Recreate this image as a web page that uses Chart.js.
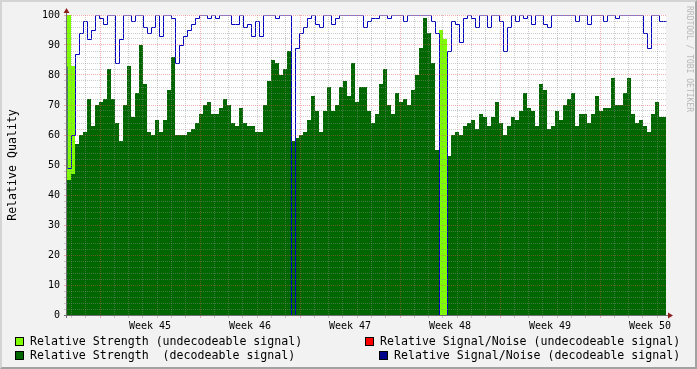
<!DOCTYPE html>
<html>
<head>
<meta charset="utf-8">
<script src="https://cdn.jsdelivr.net/npm/chart.js@4/dist/chart.umd.min.js"></script>
<style>
html,body{margin:0;padding:0;background:#f2f2f2;}
#frame{position:absolute;left:0;top:0;width:697px;height:369px;box-sizing:border-box;background:#f2f2f2;
  border-left:2px solid #d4d4d4;border-top:2px solid #d4d4d4;border-right:2px solid #a2a2a2;border-bottom:2px solid #a2a2a2;}
canvas{position:absolute;left:0;top:0;}
.t{position:absolute;font-family:"DejaVu Sans Mono",monospace;white-space:pre;color:#000;font-size:11.6px;line-height:12px;}
.box{position:absolute;width:7px;height:7px;border:1px solid #000;}
#ytitle{left:12px;top:165px;transform:translate(-50%,-50%) rotate(-90deg);}
#mark{left:689px;top:59px;transform:translate(-50%,-50%) rotate(90deg);font-size:8px;color:#b8b8b8;}
</style>
</head>
<body>
<div id="frame"></div>
<canvas id="c" width="697" height="369"></canvas>
<div class="t" id="ytitle">Relative Quality</div>
<div class="t" id="mark">RRDTOOL / TOBI OETIKER</div>

<div class="box" style="left:15px;top:337px;background:#80ff00"></div>
<div class="t" style="left:30px;top:335px">Relative Strength (undecodeable signal)</div>
<div class="box" style="left:15px;top:351px;background:#006600"></div>
<div class="t" style="left:30px;top:349px">Relative Strength  (decodeable signal)</div>
<div class="box" style="left:365px;top:337px;background:#ff0000"></div>
<div class="t" style="left:380px;top:335px">Relative Signal/Noise (undecodeable signal)</div>
<div class="box" style="left:379px;top:351px;background:#00008b"></div>
<div class="t" style="left:394px;top:349px">Relative Signal/Noise (decodeable signal)</div>

<script>
// time axis in days, 0 = start of week 45
const xStart = -2.31, xEnd = 39.62, sampleStep = 0.28;
const weekLabels = ['Week 45','Week 46','Week 47','Week 48','Week 49','Week 50'];
const weekLabelDays = [3.5, 10.5, 17.5, 24.5, 31.5, 38.5];

// relative strength, decodeable signal (one value per sample)
const strengthDecoded = [
  82,45,47,57,60,61,72,63,70,71,
  72,82,72,64,58,70,83,66,74,90,
  77,61,60,65,61,65,75,86,60,60,
  60,61,62,64,67,70,71,67,67,69,
  72,70,64,63,69,64,63,63,61,61,
  70,78,85,84,80,82,88,58,59,60,
  61,65,73,68,61,68,76,68,70,76,
  78,73,84,71,76,76,68,64,67,77,
  82,70,67,74,71,72,70,75,80,89,
  99,94,84,55,0,0,53,60,61,60,
  63,64,65,62,67,66,63,66,71,64,
  60,63,66,65,68,74,69,68,63,77,
  75,62,63,68,65,70,72,74,63,67,
  67,64,67,73,68,69,69,79,70,70,
  74,79,67,64,65,63,61,67,71,66
];
// relative strength, undecodeable signal (only a few samples)
const undecodedSamples = [1, 2, 94, 95];
const undecodedValues = [100, 83, 95, 92];
// relative signal/noise, decodeable signal
const snrDecoded = [
  83,49,60,87,94,98,92,95,100,99,
  97,100,100,84,92,100,100,98,100,100,
  96,94,96,100,93,100,100,99,84,90,
  93,95,97,99,100,100,99,100,99,100,
  100,100,97,97,100,96,97,93,98,93,
  100,100,100,99,100,100,100,0,89,94,
  96,99,100,97,96,100,100,97,99,100,
  100,100,100,100,100,96,98,99,99,100,
  100,99,100,100,100,98,100,100,100,100,
  100,100,98,94,0,0,88,98,97,91,
  99,100,99,96,100,100,96,100,100,98,
  88,96,100,98,100,99,100,97,100,100,
  97,96,100,100,100,100,100,100,98,100,
  100,97,100,100,100,98,100,100,99,100,
  100,100,100,100,100,94,89,100,100,98
];

const GRID = 'rgba(143,143,143,0.45)';
const MGRID = 'rgba(222,80,80,0.45)';
const NONE = 'rgba(0,0,0,0)';

const toPoints = vals=>{
  const pts = vals.map((v,i)=>({x: xStart + i*sampleStep, y: v}));
  pts.push({x: xStart + vals.length*sampleStep, y: vals[vals.length-1]});
  return pts;
};
const undecoded = strengthDecoded.map(()=>0);
undecodedSamples.forEach((s,k)=>{ undecoded[s] = undecodedValues[k]; });

const near = (a,b)=>Math.abs(a-b) < 1e-6;
const xGridColor = c=>{
  const v = c.tick.value;
  if(!near(v, Math.round(v))) return NONE;
  return near(v/7, Math.round(v/7)) ? MGRID : GRID;
};
const yGridColor = c=> c.tick.value % 10 === 0 ? MGRID : GRID;

// white canvas, crisp 1px line, axis lines and arrows like rrdtool
const rrdFrame = {
  id:'rrdFrame',
  beforeDraw(chart){
    const {ctx, chartArea:a} = chart;
    ctx.save(); ctx.fillStyle = '#fff';
    ctx.fillRect(a.left, a.top, a.right-a.left, a.bottom-a.top);
    ctx.restore();
  },
  beforeDatasetDraw(chart, args){
    if(chart.data.datasets[args.index].crisp){ chart.ctx.save(); chart.ctx.translate(0.5,0.5); }
  },
  afterDatasetDraw(chart, args){
    if(chart.data.datasets[args.index].crisp) chart.ctx.restore();
  },
  afterDraw(chart){
    const {ctx, chartArea:a} = chart;
    ctx.save();
    ctx.strokeStyle = '#707070'; ctx.lineWidth = 1;
    ctx.beginPath();
    ctx.moveTo(a.left-0.5, a.bottom+3); ctx.lineTo(a.left-0.5, a.top-2);
    ctx.moveTo(a.left-3, a.bottom+0.5); ctx.lineTo(a.right+2, a.bottom+0.5);
    ctx.stroke();
    ctx.fillStyle = '#902020';
    ctx.beginPath();
    ctx.moveTo(a.left-3.5, a.top-2); ctx.lineTo(a.left+2.5, a.top-2); ctx.lineTo(a.left-0.5, a.top-7); ctx.closePath();
    ctx.moveTo(a.right+2, a.bottom-2.5); ctx.lineTo(a.right+2, a.bottom+3.5); ctx.lineTo(a.right+7, a.bottom+0.5); ctx.closePath();
    ctx.fill();
    ctx.restore();
  }
};

new Chart(document.getElementById('c'), {
  type:'line',
  data:{
    datasets:[
      { label:'Relative Signal/Noise (decodeable signal)', data:toPoints(snrDecoded), stepped:'after',
        borderColor:'#0000c0', borderWidth:1, fill:false, pointRadius:0, crisp:true },
      { label:'Relative Strength  (decodeable signal)', data:toPoints(strengthDecoded), stepped:'after',
        borderColor:NONE, borderWidth:0, backgroundColor:'#006600', fill:'origin', pointRadius:0 },
      { label:'Relative Strength (undecodeable signal)', data:toPoints(undecoded), stepped:'after',
        borderColor:NONE, borderWidth:0, backgroundColor:'#80ff00', fill:'origin', pointRadius:0 }
    ]
  },
  options:{
    responsive:false, animation:false,
    layout:{ padding:{ left:0, top:15, right:31, bottom:32 } },
    plugins:{ legend:{display:false}, tooltip:{enabled:false} },
    scales:{
      x:{
        type:'linear', min:xStart, max:xEnd,
        afterFit: s=>{ s.height = 22; },
        grid:{ z:1, color:xGridColor, tickColor:xGridColor, tickLength:3, lineWidth:1 },
        border:{ display:false, dash:[1,1] },
        ticks:{ stepSize:0.5, autoSkip:false, maxRotation:0, minRotation:0, includeBounds:false, padding:2,
          color:'#000', font:{ family:'DejaVu Sans Mono', size:10 },
          callback: v=>{ const k = weekLabelDays.findIndex(d=>near(d, v)); return k >= 0 ? weekLabels[k] : ''; } }
      },
      y:{
        min:0, max:100,
        afterFit: s=>{ s.width = 67; },
        grid:{ z:1, color:yGridColor, tickColor:yGridColor, tickLength:3, lineWidth:1 },
        border:{ display:false, dash:[1,1] },
        ticks:{ stepSize:2, autoSkip:false, padding:4, color:'#000', font:{ family:'DejaVu Sans Mono', size:10 },
          callback: v=> v % 10 === 0 ? String(v) : '' }
      }
    }
  },
  plugins:[rrdFrame]
});
</script>
</body>
</html>
